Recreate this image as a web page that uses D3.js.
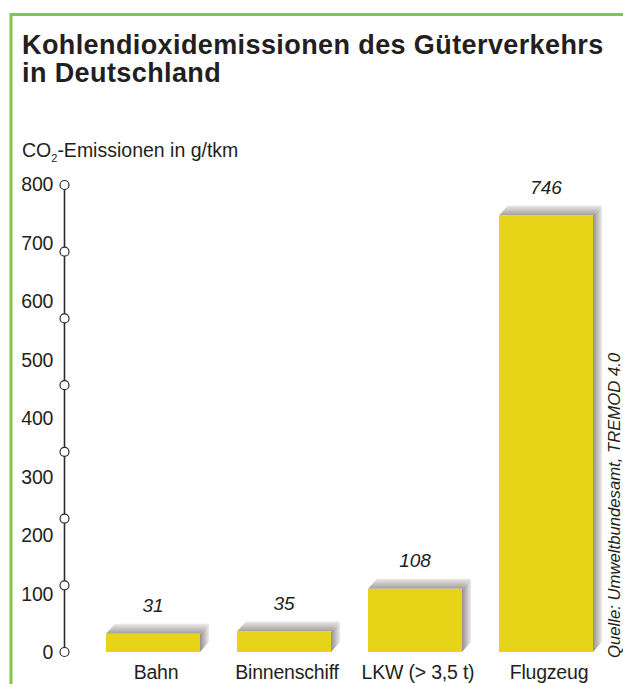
<!DOCTYPE html>
<html>
<head>
<meta charset="utf-8">
<script src="https://cdn.jsdelivr.net/npm/d3@7"></script>
<style>
  html, body { margin: 0; padding: 0; background: #fff; }
  svg { display: block; font-family: "Liberation Sans", Arial, Helvetica, sans-serif; }
</style>
</head>
<body>
<svg id="chart" width="623" height="684"></svg>
<script>
// Data: CO2 emissions of freight transport in Germany (g/tkm)
const categories = ["Bahn", "Binnenschiff", "LKW (> 3,5 t)", "Flugzeug"];
const values = [31, 35, 108, 746];
const tickValues = [0, 100, 200, 300, 400, 500, 600, 700, 800];
const titleLines = ["Kohlendioxidemissionen des Güterverkehrs", "in Deutschland"];
const sourceText = "Quelle: Umweltbundesamt, TREMOD 4.0";

const svg = d3.select("#chart");
const textColor = "#231f20";
const barColor = "#e7d318";
const depthX = 9, depthY = 10;

// Gradients for the 3D top and side faces
const defs = svg.append("defs");
const topGrad = defs.append("linearGradient").attr("id", "topFace")
  .attr("x1", 0).attr("y1", 0).attr("x2", 0).attr("y2", 1);
topGrad.append("stop").attr("offset", "0%").attr("stop-color", "#ebe9e9");
topGrad.append("stop").attr("offset", "100%").attr("stop-color", "#a39b9b");
const sideGrad = defs.append("linearGradient").attr("id", "sideFace")
  .attr("x1", 0).attr("y1", 0).attr("x2", 1).attr("y2", 0);
sideGrad.append("stop").attr("offset", "0%").attr("stop-color", "#968e8e");
sideGrad.append("stop").attr("offset", "100%").attr("stop-color", "#ecebeb");

// Green frame
svg.append("line").attr("x1", 11).attr("x2", 623).attr("y1", 14.5).attr("y2", 14.5)
  .attr("stroke", "#86c543").attr("stroke-width", 3);
svg.append("line").attr("x1", 11).attr("x2", 11).attr("y1", 13).attr("y2", 684)
  .attr("stroke", "#86c543").attr("stroke-width", 3);

// Title
svg.append("g").selectAll("text").data(titleLines).join("text")
  .attr("x", 22).attr("y", (d, i) => 54 + i * 28)
  .attr("font-size", 27).attr("font-weight", "bold")
  .attr("letter-spacing", 0.4)
  .attr("fill", textColor).text(d => d);

// Scales
const x = d3.scaleBand().domain(categories).range([106, 593]).paddingInner(0.2824).paddingOuter(0);
const y = d3.scaleLinear().domain([0, 800]).range([652, 184]);

// Axis title with subscript
const yTitle = svg.append("text").attr("x", 22).attr("y", 157)
  .attr("font-size", 19.5).attr("fill", textColor);
yTitle.append("tspan").text("CO");
yTitle.append("tspan").attr("font-size", 11).attr("dy", 5).text("2");
yTitle.append("tspan").attr("dy", -5).text("-Emissionen in g/tkm");

// Axis: vertical line with circular markers, tick labels from the y scale
const axisX = 64.5;
const markerScale = d3.scaleLinear().domain([0, 7]).range([y(0), y(800) + 1]);
const axisG = svg.append("g");
axisG.append("line").attr("x1", axisX).attr("x2", axisX)
  .attr("y1", y(800)).attr("y2", y(0))
  .attr("stroke", "#2b2b2b").attr("stroke-width", 1.6);
axisG.selectAll("circle").data(d3.range(8)).join("circle")
  .attr("cx", axisX).attr("cy", d => markerScale(d)).attr("r", 4.5)
  .attr("fill", "#fff").attr("stroke", "#2b2b2b").attr("stroke-width", 1.2);
axisG.selectAll("text").data(tickValues).join("text")
  .attr("x", 53).attr("y", d => y(d)).attr("dy", "0.36em")
  .attr("text-anchor", "end").attr("font-size", 19.5)
  .attr("letter-spacing", -0.3)
  .attr("fill", textColor).text(d => d);

// Bars with 3D top and side faces
const bars = svg.append("g").selectAll("g").data(categories.map((c, i) => ({ c, v: values[i] }))).join("g");
bars.append("path")
  .attr("d", d => {
    const x0 = x(d.c), x1 = x(d.c) + x.bandwidth(), yt = y(d.v);
    return `M${x0},${yt} L${x0 + depthX},${yt - depthY} L${x1 + depthX},${yt - depthY} L${x1},${yt} Z`;
  })
  .attr("fill", "url(#topFace)");
bars.append("path")
  .attr("d", d => {
    const x1 = x(d.c) + x.bandwidth(), yt = y(d.v), yb = y(0);
    return `M${x1},${yt} L${x1 + depthX},${yt - depthY} L${x1 + depthX},${yb - depthY} L${x1},${yb} Z`;
  })
  .attr("fill", "url(#sideFace)");
bars.append("rect")
  .attr("x", d => x(d.c)).attr("y", d => y(d.v))
  .attr("width", x.bandwidth()).attr("height", d => y(0) - y(d.v))
  .attr("fill", barColor);

// Value labels
bars.append("text")
  .attr("x", d => x(d.c) + x.bandwidth() / 2).attr("y", d => y(d.v) - 22)
  .attr("text-anchor", "middle").attr("font-size", 19).attr("font-style", "italic")
  .attr("fill", textColor).text(d => d.v);

// Category labels
bars.append("text")
  .attr("x", d => x(d.c) + x.bandwidth() / 2 + 3).attr("y", 679)
  .attr("text-anchor", "middle").attr("font-size", 19.5)
  .attr("letter-spacing", -0.2)
  .attr("fill", textColor).text(d => d.c);

// Source note, rotated
svg.append("text")
  .attr("transform", "translate(620,658) rotate(-90)")
  .attr("font-size", 16.7).attr("font-style", "italic")
  .attr("fill", textColor).text(sourceText);
</script>
</body>
</html>
